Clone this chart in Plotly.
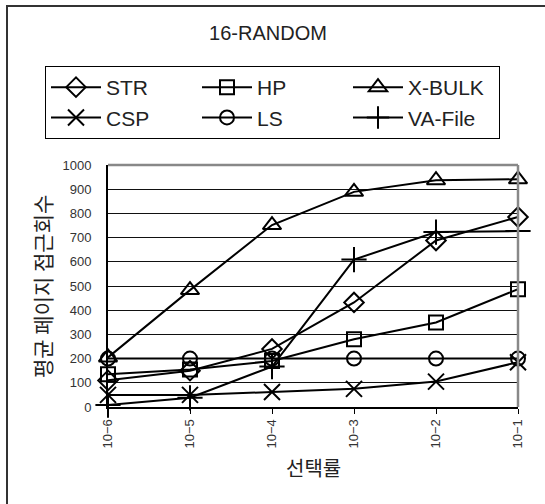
import plotly.graph_objects as go

categories = ["10−6", "10−5", "10−4", "10−3", "10−2", "10−1"]
series_names = ["STR", "HP", "X-BULK", "CSP", "LS", "VA-File"]
str_vals = [110, 150, 240, 432, 688, 785]
hp_vals = [135, 155, 190, 280, 349, 487]
xbulk_vals = [205, 483, 752, 889, 937, 941]
csp_vals = [50, 50, 62, 75, 105, 185]
ls_vals = [200, 200, 200, 200, 200, 200]
va_vals = [8, 38, 167, 609, 723, 727]
y_ticks = [0, 100, 200, 300, 400, 500, 600, 700, 800, 900, 1000]

values = [str_vals, hp_vals, xbulk_vals, csp_vals, ls_vals, va_vals]
symbols = ["diamond-open", "square-open", "triangle-up-open", "x-thin-open", "circle-open", "cross-thin-open"]
sizes = [15, 14, 16, 16, 14, 18]

W, H = 545, 504
PL, PR, PT, PB = 108, 518, 165, 407  # plot area in page pixels
L, T, R, B = PL, PT, W - PR, H - PB
pw, ph = PR - PL, PB - PT


def px_x(x):
    return (x - PL) / pw


def px_y(y):
    return (PB - y) / ph


fig = go.Figure()
for name, vals, sym, sz in zip(series_names, values, symbols, sizes):
    fig.add_trace(go.Scatter(
        x=categories, y=vals, name=name, mode="lines+markers",
        line=dict(color="black", width=2),
        marker=dict(symbol=sym, size=sz, color="black",
                    line=dict(color="black", width=2)),
        cliponaxis=False,
    ))

font_fam = "Liberation Sans, Arial, Noto Sans CJK KR, sans-serif"
kr_fam = "Noto Sans CJK KR, sans-serif"

fig.update_layout(
    width=W, height=H,
    margin=dict(l=L, r=R, t=T, b=B),
    paper_bgcolor="white", plot_bgcolor="white",
    font=dict(family=font_fam, color="#222"),
    title=dict(text="16-RANDOM", x=268 / W, xanchor="center",
               y=1 - 33 / H, yanchor="middle",
               font=dict(size=20, family=font_fam, color="#222")),
    showlegend=True,
    legend=dict(orientation="h", x=px_x(45), xanchor="left",
                y=px_y(66), yanchor="top",
                bordercolor="black", borderwidth=1,
                font=dict(size=21, family=font_fam, color="#222"),
                itemwidth=50,
                entrywidth=86, entrywidthmode="pixels",
                bgcolor="white"),
    xaxis=dict(type="category", range=[0, 5], showgrid=False,
               showline=True, linecolor="black", linewidth=2,
               ticks="outside", ticklen=5, tickcolor="black",
               tickangle=-90, tickfont=dict(size=13, color="#333"),
               zeroline=False, fixedrange=True),
    yaxis=dict(range=[0, 1000], tickvals=y_ticks,
               showgrid=True, gridcolor="#111", gridwidth=1,
               showline=True, linecolor="black", linewidth=2,
               ticks="", ticklabelstandoff=12,
               tickfont=dict(size=13, color="#333"),
               zeroline=False, fixedrange=True),
    shapes=[
        dict(type="line", xref="paper", yref="paper", x0=0, x1=1, y0=1, y1=1,
             line=dict(color="#888", width=2.5)),
        dict(type="line", xref="paper", yref="paper", x0=1, x1=1, y0=0, y1=1,
             line=dict(color="#888", width=2.5)),
        dict(type="rect", xref="paper", yref="paper",
             x0=px_x(7), x1=px_x(590), y0=px_y(6), y1=px_y(560),
             line=dict(color="#333", width=2)),
    ],
    annotations=[
        dict(text="평균 페이지 접근회수", xref="paper", yref="paper",
             x=px_x(42), y=px_y(287), textangle=-90, showarrow=False,
             xanchor="center", yanchor="middle",
             font=dict(size=21, family=kr_fam, color="#222")),
        dict(text="선택률", xref="paper", yref="paper",
             x=px_x(313), y=px_y(467), showarrow=False,
             xanchor="center", yanchor="middle",
             font=dict(size=20, family=kr_fam, color="#222")),
    ],
)

fig.write_html("out.html",
               config={"displayModeBar": False},
               post_script="document.body.style.margin='0';document.body.style.padding='0';")
